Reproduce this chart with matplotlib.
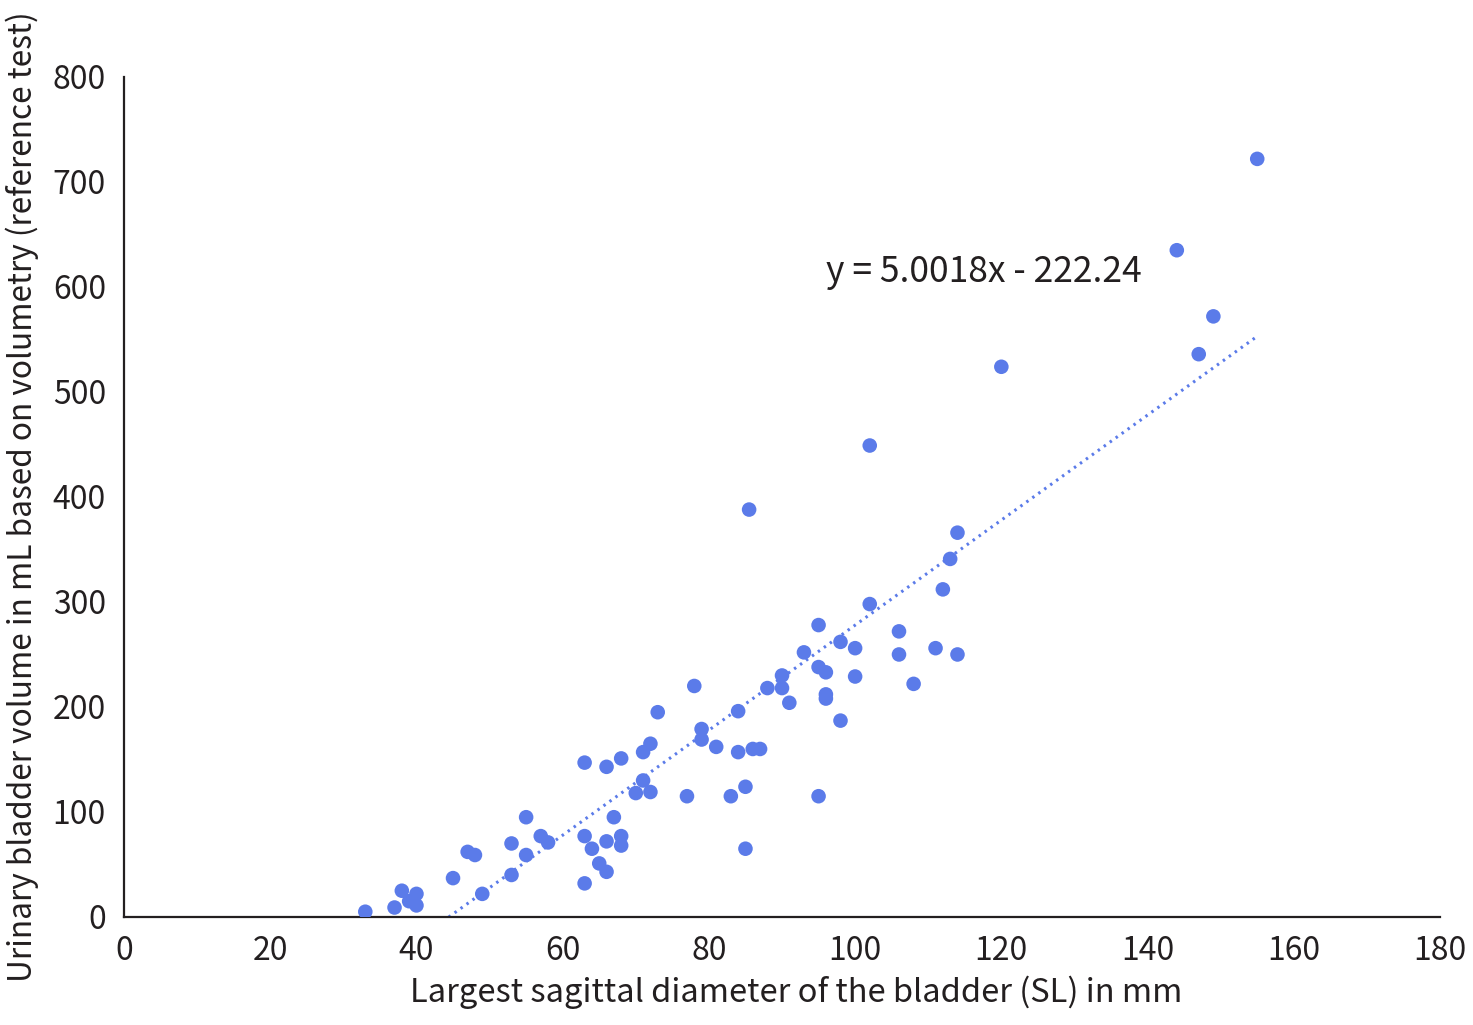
import matplotlib
matplotlib.use("Agg")
import matplotlib.pyplot as plt
import numpy as np

plt.rcParams['font.family'] = ['Noto Sans CJK JP', 'DejaVu Sans']

# data
sl_mm = [33, 37, 38, 39, 40, 40, 45, 47, 48, 49, 53, 53, 55, 55, 57, 58,
         63, 63, 63, 64, 65, 66, 66, 66, 67, 68, 68, 68, 70, 71, 71, 72, 72, 73,
         77, 78, 79, 79, 81, 83, 84, 84, 85, 85, 85.5, 86, 87, 88, 90, 90, 91,
         93, 95, 95, 95, 96, 96, 96, 98, 98, 100, 100, 102, 102, 106, 106, 108,
         111, 112, 113, 114, 114, 120, 144, 147, 149, 155]
volume_ml = [5, 9, 25, 15, 22, 11, 37, 62, 59, 22, 70, 40, 95, 59, 77, 71,
             147, 77, 32, 65, 51, 143, 72, 43, 95, 151, 77, 68, 118, 157, 130, 165, 119, 195,
             115, 220, 179, 169, 162, 115, 157, 196, 124, 65, 388, 160, 160, 218, 230, 218, 204,
             252, 115, 238, 278, 233, 212, 208, 262, 187, 256, 229, 298, 449, 272, 250, 222,
             256, 312, 341, 366, 250, 524, 635, 536, 572, 722]

slope = 5.0018
intercept = -222.24
x_ticks = list(range(0, 181, 20))
y_ticks = list(range(0, 801, 100))

blue = '#5b7be9'
dark = '#231f20'

fig = plt.figure(figsize=(14.73, 10.25), dpi=100)
ax = fig.add_axes([0.0842, 0.1054, 0.8934, 0.8195])

ax.scatter(sl_mm, volume_ml, s=110, color=blue, edgecolors='none', zorder=3)

xl = np.array([min(sl_mm), max(sl_mm)])
ax.plot(xl, slope * xl + intercept, color=blue, linewidth=2.2,
        linestyle=(0, (0.8, 1.6)), zorder=2)

ax.text(96, 614, 'y = 5.0018x - 222.24', fontsize=25.5, color=dark,
        ha='left', va='center')

ax.set_xlim(0, 180)
ax.set_ylim(0, 800)
ax.set_xticks(x_ticks)
ax.set_yticks(y_ticks)
ax.tick_params(length=0, labelsize=23, colors=dark, pad=13)
for s in ['top', 'right']:
    ax.spines[s].set_visible(False)
for s in ['left', 'bottom']:
    ax.spines[s].set_color(dark)
    ax.spines[s].set_linewidth(1.6)

ax.set_xlabel('Largest sagittal diameter of the bladder (SL) in mm',
              fontsize=23.5, color=dark, labelpad=6)
ax.xaxis.label.set_x(0.511)
ax.set_ylabel('Urinary bladder volume in mL based on volumetry (reference test)',
              fontsize=22.8, color=dark, labelpad=10)

fig.savefig('out.png', dpi=100)
